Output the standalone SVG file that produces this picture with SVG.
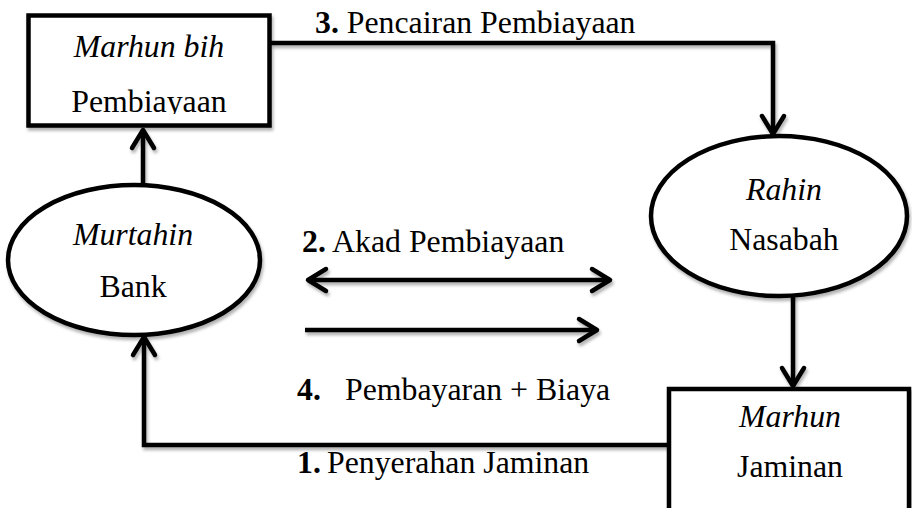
<svg xmlns="http://www.w3.org/2000/svg" width="912" height="508" viewBox="0 0 912 508">
  <style>
    .shape { fill: #ffffff; stroke: #000000; stroke-width: 4.5; }
    .link { fill: none; stroke: #000000; stroke-width: 4.5; stroke-linecap: butt; }
    .txt { font-family: 'Liberation Serif', 'DejaVu Serif', 'Times New Roman', serif; font-size: 31.8px; fill: #000000; }
    .it { font-style: italic; }
    .num { font-weight: bold; }
    .mid { text-anchor: middle; }
  </style>
  <defs>
    <filter id="shadow" x="-5%" y="-5%" width="115%" height="125%">
      <feDropShadow dx="1.5" dy="3" stdDeviation="1.6" flood-color="#000000" flood-opacity="0.3"/>
    </filter>
    <marker id="head" markerUnits="userSpaceOnUse" markerWidth="30" markerHeight="30" viewBox="-22 -15 26 30" refX="0" refY="0" orient="auto-start-reverse">
      <path d="M-18,-11 L0,0 L-18,11" fill="none" stroke="#000000" stroke-width="4.5" stroke-linecap="round" stroke-linejoin="round"/>
    </marker>
    <clipPath id="cutLine">
      <rect x="0" y="0" width="912" height="114"/>
    </clipPath>
  </defs>

  <g id="connectors" filter="url(#shadow)">
    <!-- 3: Marhun bih -> Rahin -->
    <path class="link" d="M271,43 H773 V134" marker-end="url(#head)"/>
    <!-- Murtahin -> Marhun bih -->
    <path class="link" d="M143,186 V130" marker-end="url(#head)"/>
    <!-- Rahin -> Marhun -->
    <path class="link" d="M793,295 V386" marker-end="url(#head)"/>
    <!-- 1: Marhun -> Murtahin -->
    <path class="link" d="M669,445 H144 V337" marker-end="url(#head)"/>
    <!-- 2: two-way agreement -->
    <path class="link" d="M308,280 H610" marker-start="url(#head)" marker-end="url(#head)"/>
    <!-- 4: payment -->
    <path class="link" d="M305,330 H597" marker-end="url(#head)"/>
  </g>

  <g id="node-marhun-bih">
    <rect class="shape" x="28.5" y="15.5" width="241" height="110" filter="url(#shadow)"/>
    <text class="txt it mid" x="149" y="57">Marhun bih</text>
    <text class="txt mid" x="149" y="112" clip-path="url(#cutLine)">Pembiayaan</text>
  </g>

  <g id="node-rahin">
    <ellipse class="shape" cx="779" cy="216" rx="128" ry="80" filter="url(#shadow)"/>
    <text class="txt it mid" x="784" y="200">Rahin</text>
    <text class="txt mid" x="784" y="250">Nasabah</text>
  </g>

  <g id="node-murtahin">
    <ellipse class="shape" cx="134" cy="260" rx="126" ry="75" filter="url(#shadow)"/>
    <text class="txt it mid" x="133" y="245">Murtahin</text>
    <text class="txt mid" x="133" y="297">Bank</text>
  </g>

  <g id="node-marhun">
    <rect class="shape" x="669" y="389" width="240" height="140" filter="url(#shadow)"/>
    <text class="txt it mid" x="790" y="427">Marhun</text>
    <text class="txt mid" x="790" y="477">Jaminan</text>
  </g>

  <g id="labels">
    <text class="txt" x="315" y="33"><tspan class="num">3.</tspan> Pencairan Pembiayaan</text>
    <text class="txt" x="302" y="252"><tspan class="num">2.</tspan> Akad Pembiayaan</text>
    <text class="txt" x="297" y="400"><tspan class="num">4.</tspan><tspan x="345">Pembayaran + Biaya</tspan></text>
    <text class="txt" x="297" y="473"><tspan class="num">1.</tspan><tspan x="327">Penyerahan Jaminan</tspan></text>
  </g>
</svg>
